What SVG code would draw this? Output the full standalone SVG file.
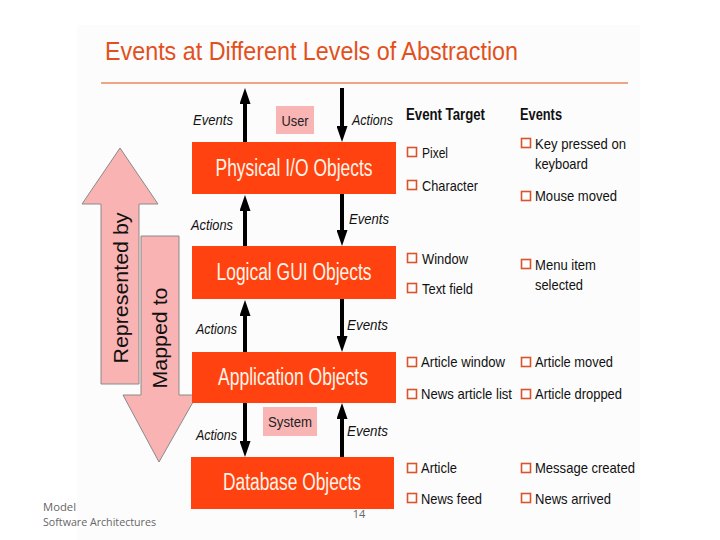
<svg xmlns="http://www.w3.org/2000/svg" width="720" height="540" viewBox="0 0 720 540">
  <defs>
    <style>
      text { font-family: "Liberation Sans", Arial, sans-serif; }
      .title { font-size: 25px; fill: #E2501E; }
      .box { fill: #FF4210; }
      .boxtxt { font-size: 23px; fill: #FFF4E8; text-anchor: middle; }
      .pink { fill: #F9B4B4; }
      .pinktxt { font-size: 15px; fill: #222; text-anchor: middle; }
      .lbl { font-size: 15px; font-style: italic; fill: #111; }
      .hdr { font-size: 16px; font-weight: bold; fill: #111; }
      .item { font-size: 15px; fill: #111; }
      .chk { fill: none; stroke: #D9542B; stroke-width: 1.6; }
      .big { fill: #F9B3B3; stroke: #8A8A8A; stroke-width: 1; }
      .bigtxt { font-size: 20px; fill: #111; text-anchor: middle; }
      .foot { font-size: 11px; fill: #666; font-family: "Open Sans", "Liberation Sans", sans-serif; }
      .conn { stroke: #000; stroke-width: 4; fill: none; }
    </style>
    <marker id="ah" viewBox="0 0 16 11" refX="0" refY="5.5" markerWidth="16" markerHeight="11" markerUnits="userSpaceOnUse" orient="auto">
      <path d="M0,0 L16,5.5 L0,11 z" fill="#000"/>
    </marker>
  </defs>

  <rect x="0" y="0" width="720" height="540" fill="#FFFFFF"/>
  <rect x="77" y="25" width="563" height="515" fill="#FCFCFC"/>

  <g id="title">
    <text class="title" x="105" y="60" textLength="413" lengthAdjust="spacingAndGlyphs">Events at Different Levels of Abstraction</text>
    <line x1="101" y1="83" x2="628" y2="83" stroke="#E9895F" stroke-width="1.5"/>
  </g>

  <g id="footer">
    <text class="foot" x="43" y="511" textLength="33" lengthAdjust="spacingAndGlyphs">Model</text>
    <text class="foot" x="43" y="526" textLength="113" lengthAdjust="spacingAndGlyphs">Software Architectures</text>
    <text class="foot" x="359" y="518" text-anchor="middle" fill="#888">14</text>
  </g>

  <g id="represented-by">
    <polygon class="big" points="120,148 158,204 139,204 139,384 101,384 101,204 82,204"/>
    <text class="bigtxt" transform="translate(128,288) rotate(-90)" textLength="151" lengthAdjust="spacingAndGlyphs">Represented by</text>
  </g>
  <g id="mapped-to">
    <polygon class="big" points="141,236 179,236 179,395 197,395 159,462 123,395 141,395"/>
    <text class="bigtxt" transform="translate(167,338) rotate(-90)" textLength="101" lengthAdjust="spacingAndGlyphs">Mapped to</text>
  </g>

  <g id="user">
    <rect class="pink" x="276" y="106" width="38" height="28"/>
    <text class="pinktxt" x="295" y="126" textLength="27" lengthAdjust="spacingAndGlyphs">User</text>
  </g>
  <g id="system">
    <rect class="pink" x="263" y="407" width="54" height="29"/>
    <text class="pinktxt" x="290" y="427" textLength="44" lengthAdjust="spacingAndGlyphs">System</text>
  </g>

  <g id="physical-io">
    <rect class="box" x="192" y="142" width="204" height="52"/>
    <text class="boxtxt" x="294" y="176" textLength="157" lengthAdjust="spacingAndGlyphs">Physical I/O Objects</text>
  </g>
  <g id="logical-gui">
    <rect class="box" x="192" y="246" width="204" height="53"/>
    <text class="boxtxt" x="294" y="280" textLength="155" lengthAdjust="spacingAndGlyphs">Logical GUI Objects</text>
  </g>
  <g id="application">
    <rect class="box" x="192" y="352" width="204" height="51"/>
    <text class="boxtxt" x="293" y="385" textLength="150" lengthAdjust="spacingAndGlyphs">Application Objects</text>
  </g>
  <g id="database">
    <rect class="box" x="191" y="457" width="203" height="52"/>
    <text class="boxtxt" x="292" y="490" textLength="138" lengthAdjust="spacingAndGlyphs">Database Objects</text>
  </g>

  <g id="connectors">
    <line class="conn" x1="245" y1="142" x2="245" y2="104" marker-end="url(#ah)"/>
    <line class="conn" x1="342" y1="88" x2="342" y2="126" marker-end="url(#ah)"/>
    <line class="conn" x1="245" y1="246" x2="245" y2="211" marker-end="url(#ah)"/>
    <line class="conn" x1="342" y1="194" x2="342" y2="230" marker-end="url(#ah)"/>
    <line class="conn" x1="245" y1="352" x2="245" y2="316" marker-end="url(#ah)"/>
    <line class="conn" x1="342" y1="299" x2="342" y2="336" marker-end="url(#ah)"/>
    <line class="conn" x1="245" y1="403" x2="245" y2="441" marker-end="url(#ah)"/>
    <line class="conn" x1="342" y1="457" x2="342" y2="419" marker-end="url(#ah)"/>
  </g>

  <g id="connector-labels">
    <text class="lbl" x="193" y="125" textLength="40" lengthAdjust="spacingAndGlyphs">Events</text>
    <text class="lbl" x="352" y="125" textLength="41" lengthAdjust="spacingAndGlyphs">Actions</text>
    <text class="lbl" x="191" y="230" textLength="42" lengthAdjust="spacingAndGlyphs">Actions</text>
    <text class="lbl" x="349" y="224" textLength="40" lengthAdjust="spacingAndGlyphs">Events</text>
    <text class="lbl" x="196" y="334" textLength="41" lengthAdjust="spacingAndGlyphs">Actions</text>
    <text class="lbl" x="347" y="330" textLength="41" lengthAdjust="spacingAndGlyphs">Events</text>
    <text class="lbl" x="196" y="440" textLength="41" lengthAdjust="spacingAndGlyphs">Actions</text>
    <text class="lbl" x="347" y="436" textLength="41" lengthAdjust="spacingAndGlyphs">Events</text>
  </g>

  <g id="event-target-column">
    <text class="hdr" x="406" y="120" textLength="79" lengthAdjust="spacingAndGlyphs">Event Target</text>
    <rect class="chk" x="407.5" y="147.5" width="9" height="9"/>
    <text class="item" x="422" y="158" textLength="26" lengthAdjust="spacingAndGlyphs">Pixel</text>
    <rect class="chk" x="407.5" y="180.5" width="9" height="9"/>
    <text class="item" x="422" y="191" textLength="56" lengthAdjust="spacingAndGlyphs">Character</text>
    <rect class="chk" x="407.5" y="253.5" width="9" height="9"/>
    <text class="item" x="422" y="264" textLength="46" lengthAdjust="spacingAndGlyphs">Window</text>
    <rect class="chk" x="407.5" y="283.5" width="9" height="9"/>
    <text class="item" x="422" y="294" textLength="51" lengthAdjust="spacingAndGlyphs">Text field</text>
    <rect class="chk" x="407.5" y="357.5" width="9" height="9"/>
    <text class="item" x="421" y="367" textLength="84" lengthAdjust="spacingAndGlyphs">Article window</text>
    <rect class="chk" x="407.5" y="389.5" width="9" height="9"/>
    <text class="item" x="421" y="399" textLength="91" lengthAdjust="spacingAndGlyphs">News article list</text>
    <rect class="chk" x="407.5" y="463.5" width="9" height="9"/>
    <text class="item" x="421" y="473" textLength="36" lengthAdjust="spacingAndGlyphs">Article</text>
    <rect class="chk" x="407.5" y="493.5" width="9" height="9"/>
    <text class="item" x="421" y="504" textLength="61" lengthAdjust="spacingAndGlyphs">News feed</text>
  </g>

  <g id="events-column">
    <text class="hdr" x="520" y="120" textLength="42" lengthAdjust="spacingAndGlyphs">Events</text>
    <rect class="chk" x="521.5" y="138.5" width="9" height="9"/>
    <text class="item" x="535" y="149" textLength="91" lengthAdjust="spacingAndGlyphs">Key pressed on</text>
    <text class="item" x="535" y="169" textLength="53" lengthAdjust="spacingAndGlyphs">keyboard</text>
    <rect class="chk" x="521.5" y="191.5" width="9" height="9"/>
    <text class="item" x="535" y="201" textLength="82" lengthAdjust="spacingAndGlyphs">Mouse moved</text>
    <rect class="chk" x="521.5" y="259.5" width="9" height="9"/>
    <text class="item" x="535" y="270" textLength="61" lengthAdjust="spacingAndGlyphs">Menu item</text>
    <text class="item" x="535" y="290" textLength="48" lengthAdjust="spacingAndGlyphs">selected</text>
    <rect class="chk" x="521.5" y="357.5" width="9" height="9"/>
    <text class="item" x="535" y="367" textLength="78" lengthAdjust="spacingAndGlyphs">Article moved</text>
    <rect class="chk" x="521.5" y="389.5" width="9" height="9"/>
    <text class="item" x="535" y="399" textLength="87" lengthAdjust="spacingAndGlyphs">Article dropped</text>
    <rect class="chk" x="521.5" y="463.5" width="9" height="9"/>
    <text class="item" x="535" y="473" textLength="100" lengthAdjust="spacingAndGlyphs">Message created</text>
    <rect class="chk" x="521.5" y="493.5" width="9" height="9"/>
    <text class="item" x="535" y="504" textLength="76" lengthAdjust="spacingAndGlyphs">News arrived</text>
  </g>
</svg>
